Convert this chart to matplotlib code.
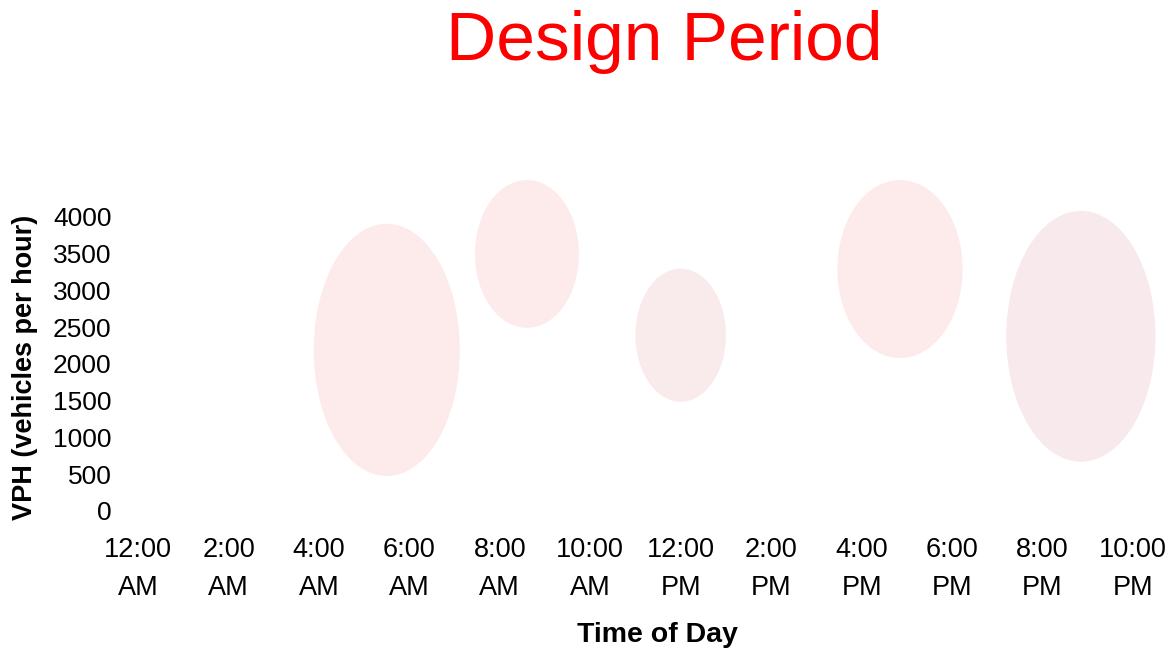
import matplotlib.pyplot as plt
from matplotlib.patches import Ellipse

plt.rcParams['font.family'] = ['Liberation Sans', 'DejaVu Sans']

# x tick positions (hours since midnight) and labels
hours = [0, 2, 4, 6, 8, 10, 12, 14, 16, 18, 20, 22]
hour_labels = ['12:00\nAM', '2:00\nAM', '4:00\nAM', '6:00\nAM', '8:00\nAM', '10:00\nAM',
               '12:00\nPM', '2:00\nPM', '4:00\nPM', '6:00\nPM', '8:00\nPM', '10:00\nPM']
vph_ticks = [0, 500, 1000, 1500, 2000, 2500, 3000, 3500, 4000]

# highlighted periods: centre hour, centre VPH, width (hours), height (VPH)
period_hour = [5.5, 8.6, 12.0, 16.85, 20.85]
period_vph = [2190, 3495, 2390, 3290, 2375]
period_width = [3.23, 2.3, 2.0, 2.77, 3.3]
period_height = [3430, 2010, 1810, 2420, 3410]
period_color = ['#fdebec', '#fdebec', '#f9eaec', '#fdebec', '#f8eaec']

fig = plt.figure(figsize=(11.73, 6.5), dpi=100)
ax = fig.add_axes([120 / 1173, (650 - 511) / 650, 1040 / 1173, (511 - 180) / 650])

for h, v, w, ht, c in zip(period_hour, period_vph, period_width, period_height, period_color):
    ax.add_patch(Ellipse((h, v), w, ht, facecolor=c, edgecolor='none'))

ax.set_xlim(-0.4, 22.6)
ax.set_ylim(0, 4500)
ax.set_xticks(hours)
ax.set_xticklabels(hour_labels, fontsize=19.5, linespacing=1.6)
ax.set_yticks(vph_ticks)
ax.set_yticklabels([str(v) for v in vph_ticks], fontsize=19)
ax.tick_params(length=0)
ax.tick_params(axis='x', pad=19)
ax.tick_params(axis='y', pad=6)
for s in ax.spines.values():
    s.set_visible(False)

fig.text(657 / 1173, 1 - 635 / 650, 'Time of Day', fontsize=20.5, fontweight='bold',
         ha='center', va='center')
fig.text(25 / 1173, 1 - 367 / 650, 'VPH (vehicles per hour)', fontsize=19.5, fontweight='bold',
         ha='center', va='center', rotation=90)
fig.text(664 / 1173, 1 - 42 / 650, 'Design Period', fontsize=50, color='#ff0000',
         ha='center', va='center')

fig.savefig('out.png', dpi=100)
